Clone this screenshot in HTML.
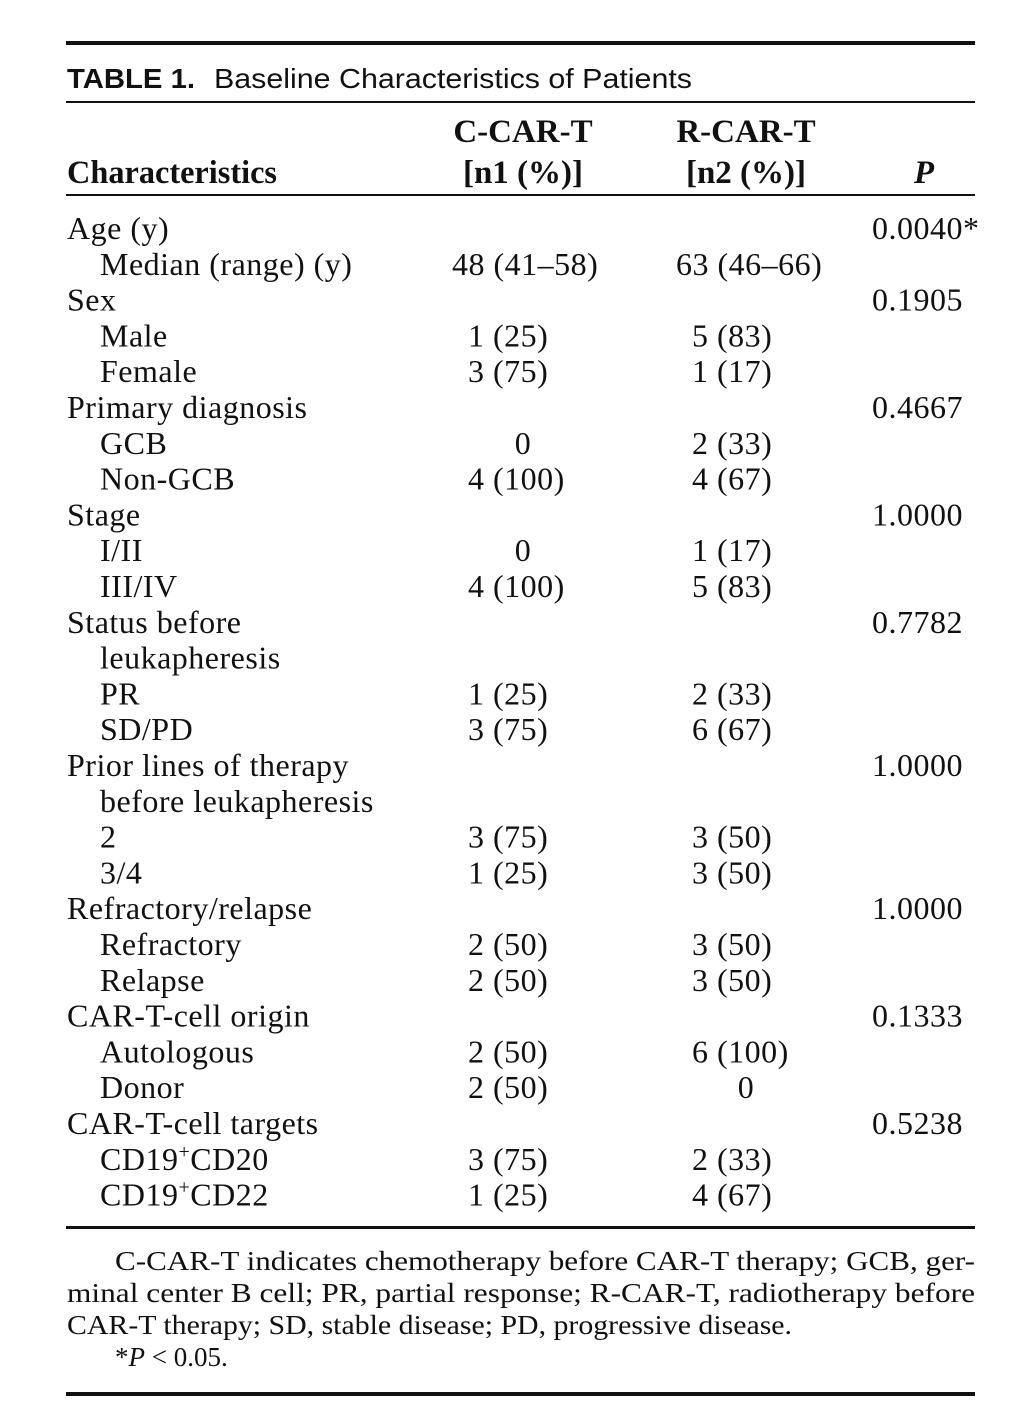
<!DOCTYPE html>
<html><head><meta charset="utf-8"><style>
html,body{margin:0;padding:0;background:#fff;width:1017px;height:1413px;overflow:hidden}
svg text{font-family:"Liberation Serif",serif;fill:#111}
.s{font-family:"Liberation Sans",sans-serif}
</style></head><body>
<svg width="1017" height="1413">
<rect x="66" y="41" width="909" height="4" fill="#111"/>
<text class="s" x="67" y="88" font-size="28" font-weight="bold" textLength="128" lengthAdjust="spacingAndGlyphs">TABLE 1.</text>
<text class="s" x="214" y="88" font-size="28" textLength="478" lengthAdjust="spacingAndGlyphs">Baseline Characteristics of Patients</text>
<rect x="66" y="101" width="909" height="2" fill="#111"/>
<g font-weight="bold" font-size="33">
<text x="67" y="183" textLength="210" lengthAdjust="spacingAndGlyphs">Characteristics</text>
<text x="523" y="142" text-anchor="middle">C-CAR-T</text>
<text x="523" y="183" text-anchor="middle">[n1 (%)]</text>
<text x="746" y="142" text-anchor="middle">R-CAR-T</text>
<text x="746" y="183" text-anchor="middle">[n2 (%)]</text>
<text x="924" y="183" text-anchor="middle" font-style="italic">P</text>
</g>
<rect x="66" y="194" width="909" height="2" fill="#111"/>
<g id="rows" font-size="32" letter-spacing="0.5"></g>
<rect x="66" y="1226" width="909" height="3" fill="#111"/>
<g font-size="27">
<text x="115" y="1270" textLength="860" lengthAdjust="spacingAndGlyphs">C-CAR-T indicates chemotherapy before CAR-T therapy; GCB, ger-</text>
<text x="67" y="1302" textLength="908" lengthAdjust="spacingAndGlyphs">minal center B cell; PR, partial response; R-CAR-T, radiotherapy before</text>
<text x="67" y="1334" textLength="725" lengthAdjust="spacingAndGlyphs">CAR-T therapy; SD, stable disease; PD, progressive disease.</text>
<text x="115" y="1366">*<tspan font-style="italic">P</tspan> &lt; 0.05.</text>
</g>
<rect x="66" y="1392" width="909" height="4" fill="#111"/>
</svg>
<script>
const labels=["Age (y)","Median (range) (y)","Sex","Male","Female","Primary diagnosis","GCB","Non-GCB","Stage","I/II","III/IV","Status before","leukapheresis","PR","SD/PD","Prior lines of therapy","before leukapheresis","2","3/4","Refractory/relapse","Refractory","Relapse","CAR-T-cell origin","Autologous","Donor","CAR-T-cell targets","CD19+CD20","CD19+CD22"];
const indent=[0,1,0,1,1,0,1,1,0,1,1,0,1,1,1,0,1,1,1,0,1,1,0,1,1,0,1,1];
const cVals=["","48 (41–58)","","1 (25)","3 (75)","","0","4 (100)","","0","4 (100)","","","1 (25)","3 (75)","","","3 (75)","1 (25)","","2 (50)","2 (50)","","2 (50)","2 (50)","","3 (75)","1 (25)"];
const rVals=["","63 (46–66)","","5 (83)","1 (17)","","2 (33)","4 (67)","","1 (17)","5 (83)","","","2 (33)","6 (67)","","","3 (50)","3 (50)","","3 (50)","3 (50)","","6 (100)","0","","2 (33)","4 (67)"];
const pVals=["0.0040*","","0.1905","","","0.4667","","","1.0000","","","0.7782","","","","1.0000","","","","1.0000","","","0.1333","","","0.5238","",""];
const g=document.getElementById('rows');const NS="http://www.w3.org/2000/svg";
function t(x,y,s,anchor){const e=document.createElementNS(NS,'text');e.setAttribute('x',x);e.setAttribute('y',y);if(anchor)e.setAttribute('text-anchor',anchor);
if(s.startsWith('CD19+')){e.innerHTML='CD19<tspan dy="-12" font-size="20">+</tspan><tspan dy="12">'+s.slice(5)+'</tspan>';}else e.textContent=s;g.appendChild(e);return e;}
labels.forEach((l,i)=>{const y=239+i*35.8;
let e=t(indent[i]?100:67,y,l);


const cv=cVals[i];if(cv){let x=cv==='0'?523:(cv.length>8?452:468);e=t(x,y,cv,cv==='0'?'middle':null);

}
const rv=rVals[i];if(rv){let x=rv==='0'?746:(rv.length>8?676:692);e=t(x,y,rv,rv==='0'?'middle':null);

}
if(pVals[i]){e=t(872,y,pVals[i]);

}
});
</script>
</body></html>
